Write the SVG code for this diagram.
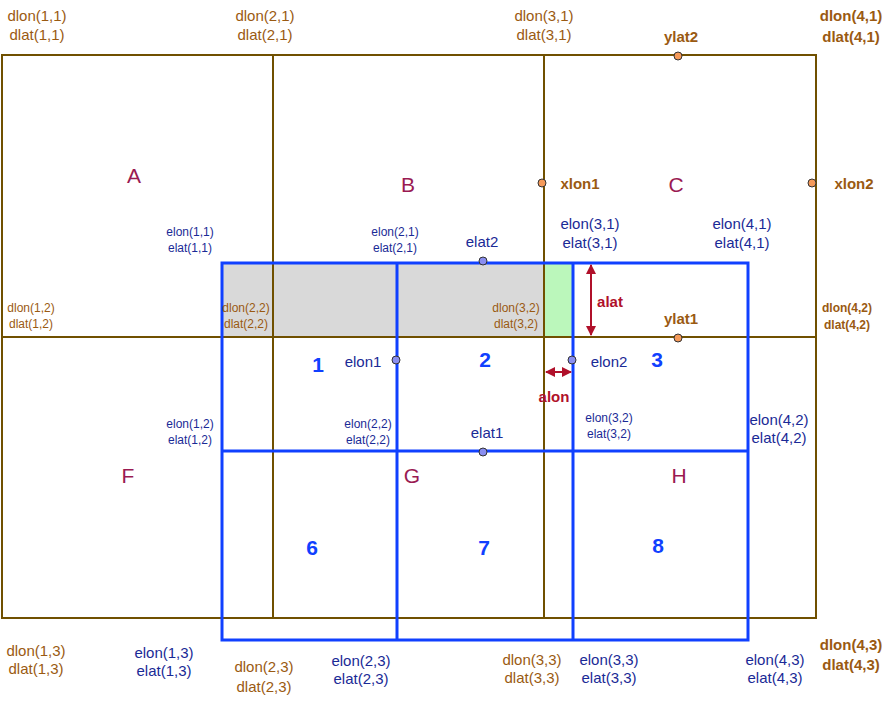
<svg xmlns="http://www.w3.org/2000/svg" width="891" height="701" viewBox="0 0 891 701">
<defs>
<style>
text{font-family:"Liberation Sans",Arial,sans-serif;text-anchor:middle}
.d{fill:#9a5a12;font-size:15px}
.ds{fill:#9a5a12;font-size:12px}
.db{fill:#9a5a12;font-size:15px;font-weight:bold}
.dbs{fill:#9a5a12;font-size:12px;font-weight:bold}
.e{fill:#1a2a96;font-size:15px}
.es{fill:#1a2a96;font-size:12px}
.L{fill:#9a1a52;font-size:21px}
.n{fill:#1040ff;font-size:21px;font-weight:bold}
.r{fill:#b0102a;font-size:15px;font-weight:bold}
.br{fill:none;stroke:#705000;stroke-width:2}
.bl{fill:none;stroke:#1040ff;stroke-width:3}
.po{fill:#f59a5a;stroke:#333;stroke-width:1}
.pb{fill:#8a8ef0;stroke:#333;stroke-width:1}
.ar{stroke:#b0102a;stroke-width:2;fill:none}
</style>
<marker id="ah" viewBox="0 0 10 10" refX="9" refY="5" markerWidth="5" markerHeight="5" orient="auto-start-reverse"><path d="M0,0L10,5L0,10z" fill="#b0102a"/></marker>
</defs>
<rect width="891" height="701" fill="#fff"/>
<g id="fills">
<rect x="222" y="263" width="322" height="74" fill="#d9d9d9" stroke="#aaa" stroke-width="1"/>
<rect x="544" y="263" width="29" height="74" fill="#bbf7bb" stroke="#aaa" stroke-width="1"/>
</g>
<g id="data-grid">
<rect class="br" x="2" y="55" width="814" height="563"/>
<line class="br" x1="273" y1="55" x2="273" y2="618"/>
<line class="br" x1="544" y1="55" x2="544" y2="618"/>
<line class="br" x1="2" y1="337" x2="816" y2="337"/>
</g>
<g id="ext-grid">
<rect class="bl" x="222" y="263" width="526" height="377"/>
<line class="bl" x1="397" y1="263" x2="397" y2="640"/>
<line class="bl" x1="573" y1="263" x2="573" y2="640"/>
<line class="bl" x1="222" y1="451" x2="748" y2="451"/>
</g>
<g id="connectors">
<line class="ar" x1="591" y1="265" x2="591" y2="335" marker-start="url(#ah)" marker-end="url(#ah)"/>
<line class="ar" x1="546" y1="372" x2="571" y2="372" marker-start="url(#ah)" marker-end="url(#ah)"/>
</g>
<g id="points">
<circle class="po" cx="678" cy="56" r="4"/>
<circle class="po" cx="542" cy="183" r="4"/>
<circle class="po" cx="812" cy="183" r="4"/>
<circle class="po" cx="678" cy="338" r="4"/>
<circle class="pb" cx="483" cy="261" r="4"/>
<circle class="pb" cx="396" cy="360" r="4"/>
<circle class="pb" cx="572" cy="360" r="4"/>
<circle class="pb" cx="483" cy="452" r="4"/>
</g>
<g id="labels">
<text class="d" x="37" y="21">dlon(1,1)</text><text class="d" x="37" y="40">dlat(1,1)</text>
<text class="d" x="265" y="21">dlon(2,1)</text><text class="d" x="265" y="40">dlat(2,1)</text>
<text class="d" x="544" y="21">dlon(3,1)</text><text class="d" x="544" y="40">dlat(3,1)</text>
<text class="db" x="851" y="21">dlon(4,1)</text><text class="db" x="851" y="42">dlat(4,1)</text>
<text class="db" x="681" y="42">ylat2</text>
<text class="L" x="134" y="183">A</text>
<text class="L" x="408" y="192">B</text>
<text class="L" x="676" y="192">C</text>
<text class="L" x="128" y="483">F</text>
<text class="L" x="412" y="483">G</text>
<text class="L" x="679" y="483">H</text>
<text class="db" x="580" y="189">xlon1</text>
<text class="db" x="854" y="189">xlon2</text>
<text class="es" x="190" y="236">elon(1,1)</text><text class="es" x="190" y="252">elat(1,1)</text>
<text class="es" x="395" y="236">elon(2,1)</text><text class="es" x="395" y="252">elat(2,1)</text>
<text class="e" x="482" y="247">elat2</text>
<text class="e" x="590" y="229">elon(3,1)</text><text class="e" x="590" y="248">elat(3,1)</text>
<text class="e" x="742" y="229">elon(4,1)</text><text class="e" x="742" y="248">elat(4,1)</text>
<text class="ds" x="31" y="312">dlon(1,2)</text><text class="ds" x="31" y="328">dlat(1,2)</text>
<text class="ds" x="246" y="312">dlon(2,2)</text><text class="ds" x="246" y="328">dlat(2,2)</text>
<text class="ds" x="516" y="312">dlon(3,2)</text><text class="ds" x="516" y="328">dlat(3,2)</text>
<text class="dbs" x="847" y="312">dlon(4,2)</text><text class="dbs" x="847" y="329">dlat(4,2)</text>
<text class="r" x="610" y="307">alat</text>
<text class="db" x="681" y="324">ylat1</text>
<text class="n" x="318" y="372">1</text>
<text class="n" x="485" y="367">2</text>
<text class="n" x="657" y="367">3</text>
<text class="e" x="363" y="367">elon1</text>
<text class="e" x="609" y="367">elon2</text>
<text class="r" x="554" y="402">alon</text>
<text class="es" x="190" y="428">elon(1,2)</text><text class="es" x="190" y="444">elat(1,2)</text>
<text class="es" x="368" y="428">elon(2,2)</text><text class="es" x="368" y="444">elat(2,2)</text>
<text class="e" x="487" y="438">elat1</text>
<text class="es" x="609" y="422">elon(3,2)</text><text class="es" x="609" y="438">elat(3,2)</text>
<text class="e" x="779" y="425">elon(4,2)</text><text class="e" x="779" y="443">elat(4,2)</text>
<text class="n" x="312" y="555">6</text>
<text class="n" x="484" y="555">7</text>
<text class="n" x="658" y="553">8</text>
<text class="d" x="36" y="656">dlon(1,3)</text><text class="d" x="36" y="674">dlat(1,3)</text>
<text class="e" x="164" y="658">elon(1,3)</text><text class="e" x="164" y="676">elat(1,3)</text>
<text class="d" x="264" y="672">dlon(2,3)</text><text class="d" x="264" y="692">dlat(2,3)</text>
<text class="e" x="361" y="666">elon(2,3)</text><text class="e" x="361" y="684">elat(2,3)</text>
<text class="d" x="532" y="665">dlon(3,3)</text><text class="d" x="532" y="683">dlat(3,3)</text>
<text class="e" x="609" y="665">elon(3,3)</text><text class="e" x="609" y="683">elat(3,3)</text>
<text class="e" x="775" y="665">elon(4,3)</text><text class="e" x="775" y="683">elat(4,3)</text>
<text class="db" x="851" y="650">dlon(4,3)</text><text class="db" x="851" y="670">dlat(4,3)</text>
</g>
</svg>
